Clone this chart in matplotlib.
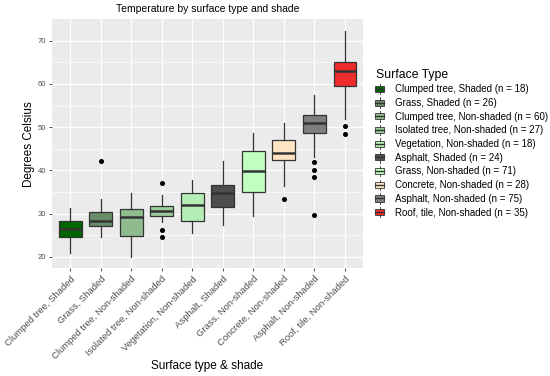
import matplotlib
matplotlib.use("Agg")
import matplotlib.pyplot as plt
from matplotlib.patches import Rectangle
from matplotlib.lines import Line2D
from matplotlib.legend_handler import HandlerBase

plt.rcParams["font.family"] = ["Liberation Sans", "DejaVu Sans"]

# values
labels = ["Clumped tree, Shaded", "Grass, Shaded", "Clumped tree, Non-shaded",
          "Isolated tree, Non-shaded", "Vegetation, Non-shaded", "Asphalt, Shaded",
          "Grass, Non-shaded", "Concrete, Non-shaded", "Asphalt, Non-shaded",
          "Roof, tile, Non-shaded"]
counts = [18, 26, 60, 27, 18, 24, 71, 28, 75, 35]
whislo = [21.0, 24.6, 20.0, 28.1, 25.6, 27.3, 29.5, 36.4, 43.1, 52.0]
q1 = [24.6, 27.1, 24.9, 29.4, 28.3, 31.6, 35.0, 42.5, 48.7, 59.6]
med = [26.5, 28.3, 29.3, 30.6, 32.0, 34.7, 39.9, 44.1, 50.9, 63.1]
q3 = [28.3, 30.4, 31.0, 31.7, 34.8, 36.6, 44.5, 47.1, 52.9, 65.0]
whishi = [31.2, 33.3, 34.7, 34.3, 37.7, 42.1, 48.7, 50.9, 57.4, 72.3]
fliers = [[], [42.2], [], [37.1, 26.2, 24.6], [], [], [], [33.3],
          [42.0, 40.2, 38.5, 29.8], [50.3, 48.4]]
colors = ["#006400", "#698b69", "#8fbc8f", "#9bcd9b", "#b4eeb4", "#4d4d4d",
          "#c1ffc1", "#ffe4c4", "#7f7f7f", "#ee2c2c"]
edge = "#333333"

fig = plt.figure(figsize=(5.5, 3.76), dpi=100)
ax = fig.add_axes([0.0945, 0.287, 0.566, 0.662])
ax.set_facecolor("#ebebeb")

stats = []
for i in range(len(labels)):
    stats.append(dict(whislo=whislo[i], q1=q1[i], med=med[i], q3=q3[i],
                      whishi=whishi[i], fliers=fliers[i]))

pos = list(range(1, len(labels) + 1))
bp = ax.bxp(stats, positions=pos, widths=0.75, patch_artist=True, showcaps=False,
            boxprops=dict(edgecolor=edge, linewidth=0.9),
            whiskerprops=dict(color=edge, linewidth=0.9),
            medianprops=dict(color=edge, linewidth=1.8),
            flierprops=dict(marker="o", markersize=2.6, markerfacecolor="black",
                            markeredgecolor="black"))
for box, c in zip(bp["boxes"], colors):
    box.set_facecolor(c)

ax.set_xlim(0.4, 10.6)
ax.set_ylim(17.4, 75.0)
ax.set_yticks([20, 30, 40, 50, 60, 70])
ax.set_yticks([25, 35, 45, 55, 65], minor=True)
ax.set_xticks(pos)
ax.set_xticklabels(labels, rotation=45, ha="right", rotation_mode="anchor",
                   fontsize=6.8, color="#4d4d4d")
ax.tick_params(axis="y", labelsize=5.5, labelcolor="#4d4d4d", color="#333333",
               length=2.5, width=0.6, pad=1.5)
ax.tick_params(axis="x", color="#333333", length=2.5, width=0.6, pad=2)
ax.tick_params(axis="y", which="minor", length=0)
ax.grid(True, which="major", color="white", linewidth=0.9)
ax.grid(True, which="minor", axis="y", color="white", linewidth=0.45)
ax.set_axisbelow(True)
for s in ax.spines.values():
    s.set_visible(False)

ax.set_title("Temperature by surface type and shade", fontsize=7.5, pad=5)
ax.set_ylabel("Degrees Celsius", fontsize=8.4, labelpad=2)
fig.text(0.3773, 10 / 376, "Surface type & shade", fontsize=8.5,
         ha="center", va="center")


class BoxKey(HandlerBase):
    def create_artists(self, legend, orig, xd, yd, w, h, fontsize, trans):
        fc = orig.get_facecolor()
        x0 = xd + w * 0.1
        bw = w * 0.8
        rect = Rectangle((-x0, -yd + h * 0.15), bw, h * 0.7, facecolor=fc,
                         edgecolor=edge, linewidth=0.6, transform=trans)
        cx = -x0 + bw / 2
        vl = Line2D([cx, cx], [-yd - h * 0.1, -yd + h * 1.1], color=edge,
                    linewidth=0.6, transform=trans)
        ml = Line2D([-x0, -x0 + bw], [-yd + h * 0.5] * 2, color=edge,
                    linewidth=1.0, transform=trans)
        return [vl, rect, ml]


handles = [Rectangle((0, 0), 1, 1, facecolor=c) for c in colors]
leg_labels = [f"{l} (n = {n})" for l, n in zip(labels, counts)]
leg = fig.legend(handles, leg_labels, handler_map={Rectangle: BoxKey()},
                 loc="upper left", bbox_to_anchor=(0.677, 0.828), frameon=False,
                 title="Surface Type", title_fontsize=8.8, fontsize=7.0,
                 handlelength=1.2, handleheight=1.0, handletextpad=0.75,
                 labelspacing=0.38, borderaxespad=0)
leg._legend_box.align = "left"

fig.savefig("out.png", dpi=100)
